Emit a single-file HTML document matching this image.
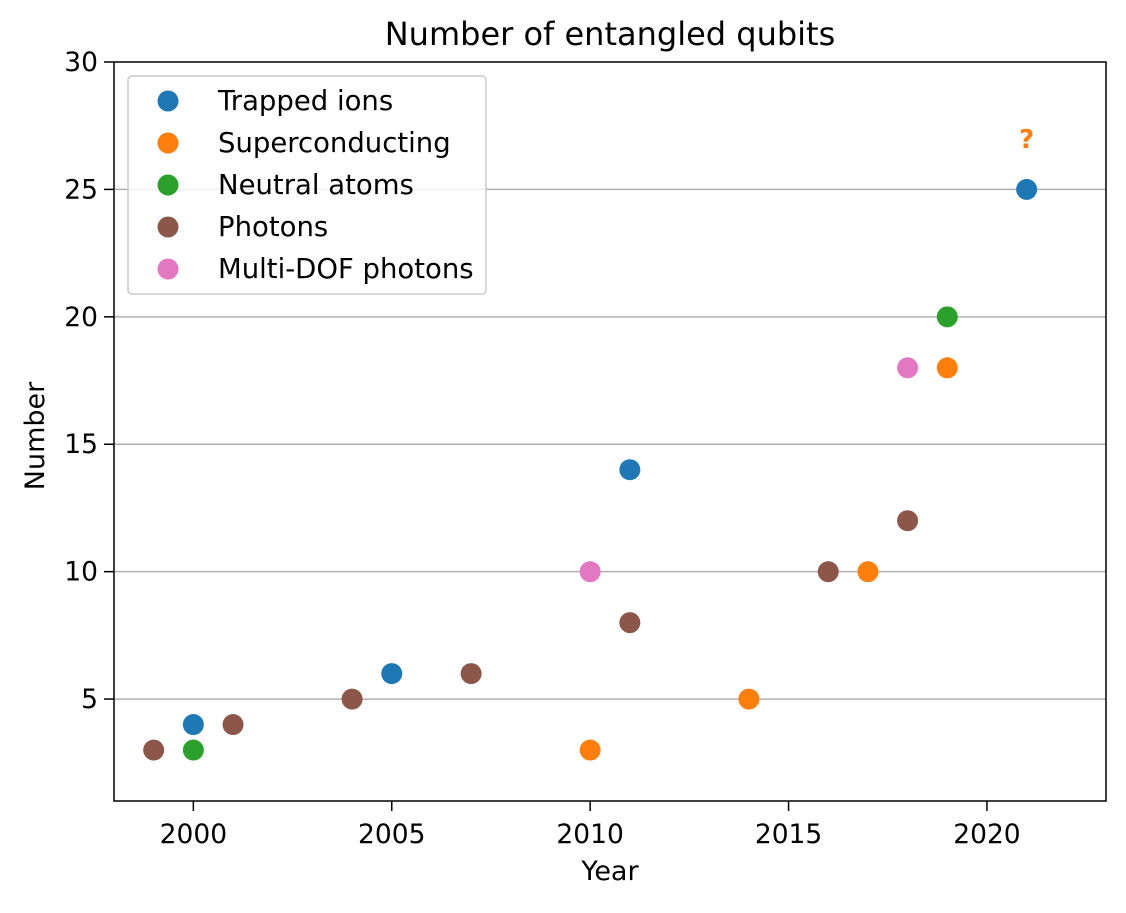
<!DOCTYPE html>
<html><head><meta charset="utf-8"><style>
body{margin:0;background:#fff;}
svg text{font-family:"DejaVu Sans","Liberation Sans",sans-serif;fill:#000;}
</style></head><body>
<svg id="chart" width="1126" height="908" xmlns="http://www.w3.org/2000/svg">
<rect width="1126" height="908" fill="#fff"/>
<text x="610" y="45" font-size="32" text-anchor="middle">Number of entangled qubits</text>
<g id="grid"></g><g id="ticks"></g><g id="marks"></g>
<rect x="114" y="62" width="992" height="739" fill="none" stroke="#000" stroke-width="1.5"/>
<text x="610" y="880" font-size="27" text-anchor="middle">Year</text>
<text transform="translate(44,436) rotate(-90)" font-size="27" text-anchor="middle">Number</text>
<g id="legend">
<rect x="128" y="76" width="358" height="218" rx="4" fill="#fff" fill-opacity="0.8" stroke="#ccc" stroke-width="1.5"/>
</g>
</svg>
<script>
const seriesNames=["Trapped ions","Superconducting","Neutral atoms","Photons","Multi-DOF photons"];
const colors=["#1f77b4","#ff7f0e","#2ca02c","#8c564b","#e377c2"];
const trappedX=[2000,2005,2011,2021], trappedY=[4,6,14,25];
const superX=[2010,2014,2017,2019], superY=[3,5,10,18];
const neutralX=[2000,2019], neutralY=[3,20];
const photonX=[1999,2001,2004,2007,2011,2016,2018], photonY=[3,4,5,6,8,10,12];
const multiX=[2010,2018], multiY=[10,18];
const xTicks=[2000,2005,2010,2015,2020];
const yTicks=[5,10,15,20,25,30];
const gridY=[5,10,15,20,25];
const questionX=2021, questionY=27.1;
const sx=v=>114+(v-1998)*(992/25);
const sy=v=>801-(v-1)*(739/29);
const NS="http://www.w3.org/2000/svg";
function mk(t,a,p){const e=document.createElementNS(NS,t);for(const k in a)e.setAttribute(k,a[k]);document.getElementById(p).appendChild(e);return e;}
gridY.forEach(v=>{const l=mk('line',{x1:114,x2:1106,y1:sy(v),y2:sy(v),stroke:'#b0b0b0','stroke-width':1.5},'grid');

});
xTicks.forEach(v=>{const l=mk('line',{x1:sx(v),x2:sx(v),y1:801,y2:811,stroke:'#000','stroke-width':1.5},'ticks');


const t=mk('text',{x:sx(v),y:843,'font-size':26.5,'text-anchor':'middle'},'ticks');t.textContent=v;

});
yTicks.forEach(v=>{const l=mk('line',{x1:104,x2:114,y1:sy(v),y2:sy(v),stroke:'#000','stroke-width':1.5},'ticks');


const t=mk('text',{x:98,y:sy(v)+9,'font-size':26.5,'text-anchor':'end'},'ticks');t.textContent=v;

});
const all=[[trappedX,trappedY],[superX,superY],[neutralX,neutralY],[photonX,photonY],[multiX,multiY]];
all.forEach((s,i)=>{s[0].forEach((x,j)=>{const c=mk('circle',{cx:sx(x),cy:sy(s[1][j]),r:10.5,fill:colors[i]},'marks');

});
const lc=mk('circle',{cx:168,cy:101+i*42,r:10.5,fill:colors[i]},'legend');


const lt=mk('text',{x:218,y:110+i*42,'font-size':27.5},'legend');lt.textContent=seriesNames[i];

});
const q=mk('text',{x:sx(questionX),y:sy(questionY)+12,'font-size':26,'font-weight':'bold','text-anchor':'middle',style:'fill:#ff7f0e'},'marks');q.textContent='?';


</script>
</body></html>
